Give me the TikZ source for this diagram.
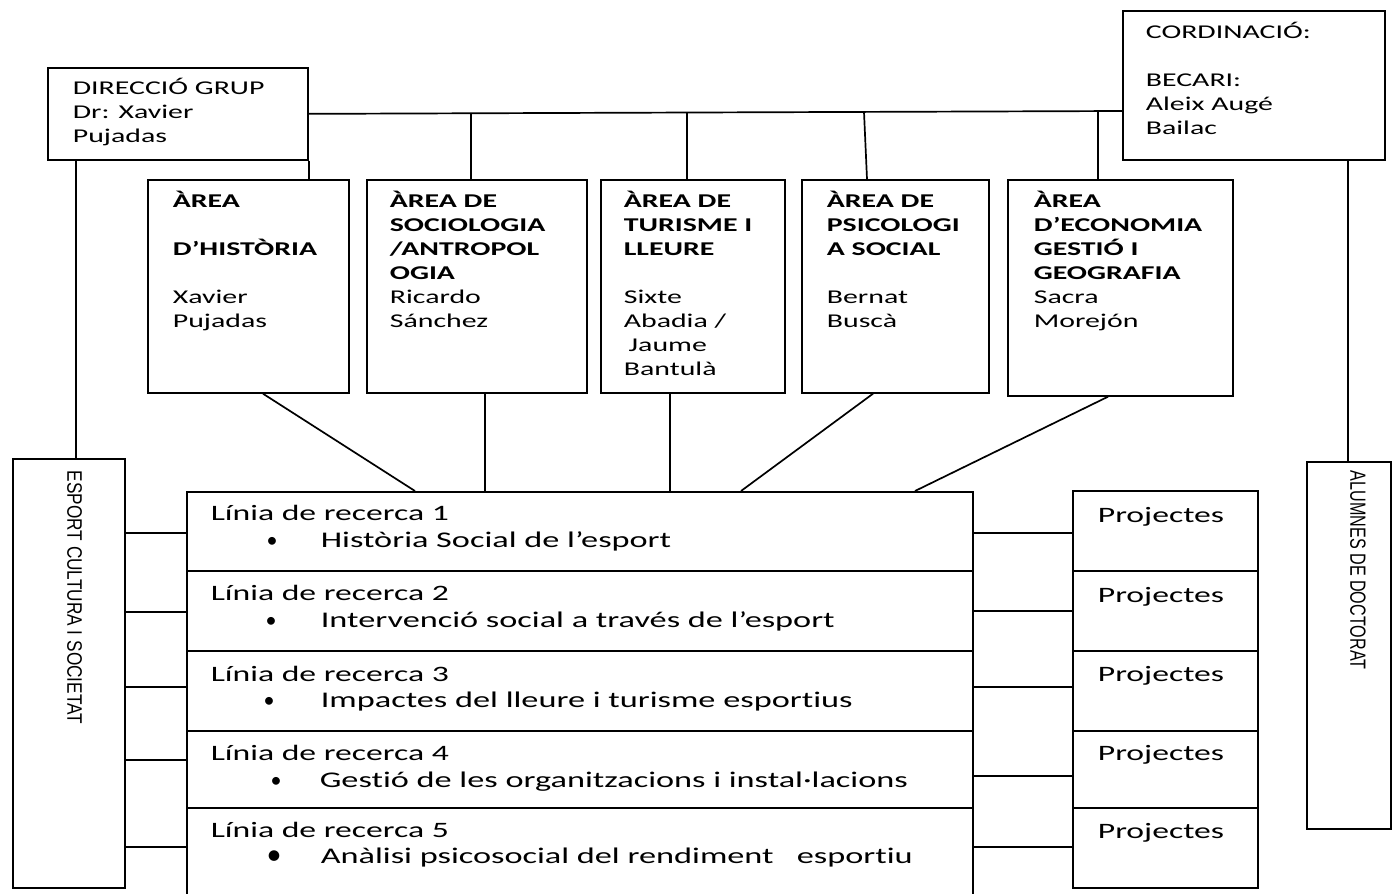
\documentclass[tikz,border=0pt]{standalone}
\usepackage{fontspec}
\setmainfont{Carlito}[FakeStretch=1.53,Ligatures={NoCommon}]
\newfontfamily\plainf{Carlito}
\newfontfamily\arialf{Liberation Sans}
\newcommand\tstrut{\rule{0pt}{20pt}}
\begin{document}
\begin{tikzpicture}[x=1pt,y=-1pt,line width=1.7pt,
  box/.style={draw,inner sep=0pt,anchor=north west},
  txt/.style={inner sep=0pt,anchor=north west,align=left,font=\fontsize{19.5}{24}\selectfont},
  ltxt/.style={inner sep=0pt,anchor=base west,font=\fontsize{22}{26}\selectfont},
  stxt/.style={inner sep=0pt,anchor=base west,font=\fontsize{22.4}{26}\selectfont},
  bul/.style={inner sep=0pt,anchor=base,font=\plainf\fontsize{22}{26}\selectfont},
  bigbul/.style={inner sep=0pt,anchor=base,font=\plainf\fontsize{30}{32}\selectfont},
  vtxt/.style={inner sep=0pt,anchor=west,rotate=-90}]
\useasboundingbox (0,0) rectangle (1392,894);

% top boxes
\node[box,minimum width=260pt,minimum height=92pt] (dir) at (47,67) {};
\node[box,minimum width=262pt,minimum height=149pt] (cor) at (1122,10) {};
% area boxes
\node[box,minimum width=201pt,minimum height=213pt] (a1) at (147,179) {};
\node[box,minimum width=220pt,minimum height=213pt] (a2) at (366,179) {};
\node[box,minimum width=184pt,minimum height=213pt] (a3) at (600,179) {};
\node[box,minimum width=187pt,minimum height=213pt] (a4) at (801,179) {};
\node[box,minimum width=225pt,minimum height=216pt] (a5) at (1007,179) {};
% side boxes
\node[box,minimum width=112pt,minimum height=429pt] (esp) at (12,458) {};
\node[box,minimum width=84pt,minimum height=367pt] (alu) at (1306,461) {};
% research lines
\node[box,minimum width=786pt,minimum height=79pt] (lin1) at (186,491) {};
\node[box,minimum width=786pt,minimum height=80pt] (lin2) at (186,570) {};
\node[box,minimum width=786pt,minimum height=80pt] (lin3) at (186,650) {};
\node[box,minimum width=786pt,minimum height=77pt] (lin4) at (186,730) {};
\node[box,minimum width=786pt,minimum height=100pt] (lin5) at (186,807) {};
% projects
\node[box,minimum width=185pt,minimum height=80pt] (pr1) at (1072,490) {};
\node[box,minimum width=185pt,minimum height=80pt] (pr2) at (1072,570) {};
\node[box,minimum width=185pt,minimum height=80pt] (pr3) at (1072,650) {};
\node[box,minimum width=185pt,minimum height=77pt] (pr4) at (1072,730) {};
\node[box,minimum width=185pt,minimum height=80pt] (pr5) at (1072,807) {};

% bus and drops
\draw (dir.east) -- (cor.west |- 0,111);
\draw (dir.south east) -- (dir.south east |- a1.north);
\coordinate (d2) at (471,113);
\coordinate (d3) at (687,112);
\coordinate (d4) at (864,112);
\coordinate (d5) at (1098,111);
\draw (d2) -- (d2 |- a2.north);
\draw (d3) -- (d3 |- a3.north);
\draw (d4) -- ([xshift=66pt]a4.north west);
\draw (d5) -- (d5 |- a5.north);
% side verticals
\coordinate (dv) at ([xshift=29pt]dir.south west);
\draw (dv) -- (dv |- esp.north);
\coordinate (cv) at ([xshift=226pt]cor.south west);
\draw (cv) -- (cv |- alu.north);
% areas to lines
\draw ([xshift=116pt]a1.south west) -- ([xshift=229pt]lin1.north west);
\draw ([xshift=119pt]a2.south west) -- ([xshift=299pt]lin1.north west);
\draw ([xshift=70pt]a3.south west) -- ([xshift=484pt]lin1.north west);
\draw ([xshift=72pt]a4.south west) -- ([xshift=555pt]lin1.north west);
\draw ([xshift=101pt]a5.south west) -- ([xshift=729pt]lin1.north west);
% left connectors
\draw (esp.east |- 0,533) -- (lin1.west |- 0,533);
\draw (esp.east |- 0,612) -- (lin2.west |- 0,612);
\draw (esp.east |- 0,687) -- (lin3.west |- 0,687);
\draw (esp.east |- 0,760) -- (lin4.west |- 0,760);
\draw (esp.east |- 0,847) -- (lin5.west |- 0,847);
% right connectors
\draw (lin1.east |- 0,533) -- (pr1.west |- 0,533);
\draw (lin2.east |- 0,611) -- (pr2.west |- 0,611);
\draw (lin3.east |- 0,687) -- (pr3.west |- 0,687);
\draw (lin4.east |- 0,776) -- (pr4.west |- 0,776);
\draw (lin5.east |- 0,847) -- (pr5.west |- 0,847);

% texts
\node[txt] (tdir) at (72,74) {\tstrut DIRECCIÓ GRUP\\Dr: Xavier\\Pujadas};
\node[txt] (tcor) at (1145,18) {\tstrut CORDINACIÓ:\\~\\BECARI:\\Aleix Augé\\Bailac};
\node[txt] (ta1) at (172,187) {\tstrut\textbf{ÀREA}\\~\\\textbf{D’HISTÒRIA}\\~\\Xavier\\Pujadas};
\node[txt] (ta2) at (389,187) {\tstrut\textbf{ÀREA DE}\\\textbf{SOCIOLOGIA}\\\textbf{/ANTROPOL}\\\textbf{OGIA}\\Ricardo\\Sánchez};
\node[txt] (ta3) at (623,187) {\tstrut\textbf{ÀREA DE}\\\textbf{TURISME I}\\\textbf{LLEURE}\\~\\Sixte\\Abadia /\\\hspace*{0.25em}Jaume\\Bantulà};
\node[txt] (ta4) at (826,187) {\tstrut\textbf{ÀREA DE}\\\textbf{PSICOLOGI}\\\textbf{A SOCIAL}\\~\\Bernat\\Buscà};
\node[txt] (ta5) at (1033,187) {\tstrut\textbf{ÀREA}\\\textbf{D’ECONOMIA}\\\textbf{GESTIÓ I}\\\textbf{GEOGRAFIA}\\Sacra\\Morejón};

\node[ltxt] (l1t) at (210,520) {Línia de recerca 1};
\node[bul] (l1b) at (272,547) {•};
\node[stxt] (l1s) at (320,547) {Història Social de l’esport};
\node[ltxt] (l2t) at (210,600) {Línia de recerca 2};
\node[bul] (l2b) at (271,627) {•};
\node[stxt] (l2s) at (320,627) {Intervenció social a través de l’esport};
\node[ltxt] (l3t) at (210,681) {Línia de recerca 3};
\node[bul] (l3b) at (269,707) {•};
\node[stxt] (l3s) at (320,707) {Impactes del lleure i turisme esportius};
\node[ltxt] (l4t) at (210,760) {Línia de recerca 4};
\node[bul] (l4b) at (276,787) {•};
\node[stxt] (l4s) at (319,787) {Gestió de les organitzacions i instal·lacions};
\node[ltxt] (l5t) at (210,837) {Línia de recerca 5};
\node[bigbul] (l5b) at (274,864) {•};
\node[stxt] (l5s) at (320,863) {Anàlisi psicosocial del rendiment\ \ \ esportiu};

\node[ltxt] (p1t) at (1097,522) {Projectes};
\node[ltxt] (p2t) at (1097,602) {Projectes};
\node[ltxt] (p3t) at (1097,681) {Projectes};
\node[ltxt] (p4t) at (1097,760) {Projectes};
\node[ltxt] (p5t) at (1097,838) {Projectes};

\node[vtxt,font=\arialf\fontsize{21}{24}\selectfont] (vesp) at (74.5,470) {\scalebox{0.82}[1]{ESPORT CULTURA I SOCIETAT}};
\node[vtxt,font=\arialf\fontsize{22}{24}\selectfont] (valu) at (1358,470) {\scalebox{0.734}[1]{ALUMNES DE DOCTORAT}};
\end{tikzpicture}
\end{document}
